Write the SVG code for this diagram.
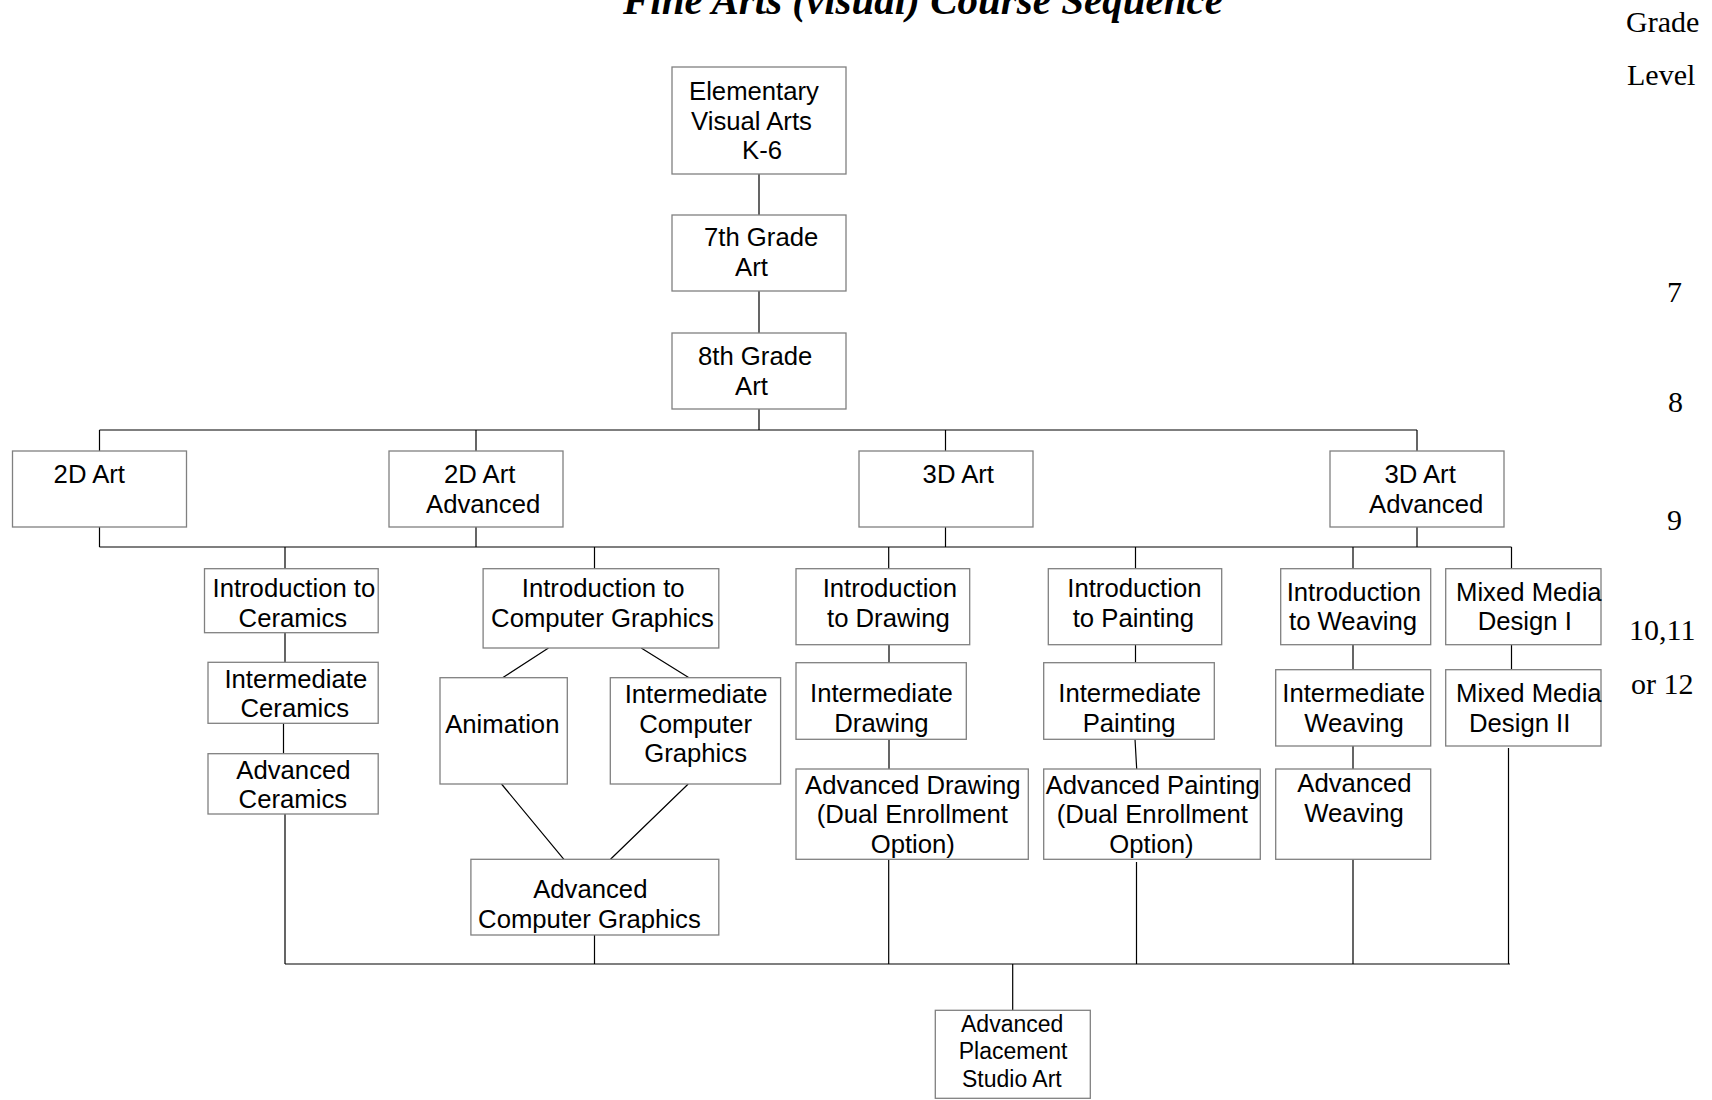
<svg xmlns="http://www.w3.org/2000/svg" width="1712" height="1100" viewBox="0 0 1712 1100">
<style>
.box{fill:#fff;stroke:#808080;stroke-width:1.3}
.t{font-family:"Liberation Sans",Arial,sans-serif;font-size:25.7px;fill:#000}
.s{font-size:23px}
.c{stroke:#000;stroke-width:1.2;fill:none}
.g{font-family:"Liberation Serif","Times New Roman",serif;font-size:30px;fill:#000}
.title{font-family:"Liberation Serif","Times New Roman",serif;font-weight:bold;font-style:italic;font-size:41px;fill:#000}
</style>
<rect width="1712" height="1100" fill="#fff"/>
<text class="title" x="623" y="14">Fine Arts (visual) Course Sequence</text>
<g id="grade-labels">
<text class="g" x="1626" y="32">Grade</text>
<text class="g" x="1627" y="85">Level</text>
<text class="g" x="1667" y="302">7</text>
<text class="g" x="1668" y="412">8</text>
<text class="g" x="1667" y="530">9</text>
<text class="g" x="1629" y="640">10,11</text>
<text class="g" x="1631" y="694">or 12</text>
</g>
<g id="connectors" class="c">
<path d="M759 174V215M759 291V333M759 409V430"/>
<path d="M99.5 430H1417M99.5 430V451M476 430V451M945.5 430V451M1417 430V451"/>
<path d="M99.5 527V547M476 527V547M945.5 527V547M1417 527V547M99.5 547H1511.5"/>
<path d="M285 547V569M594.5 547V569M888.7 547V569M1135.5 547V569M1353 547V569M1511.5 547V569"/>
<path d="M285 633V662M283.5 723V754M285 814V964"/>
<path d="M548.5 648L502.6 677.7M641.2 648L689 677.7M501.5 784L563.9 859.3M688.2 784L610.5 859.3M594.5 935V964"/>
<path d="M889 645V663M889 739V769M888.7 859V964"/>
<path d="M1135.5 645V663M1135 739L1136.7 769M1136.5 862V964"/>
<path d="M1353 645V670M1353 746V769M1353 859V964"/>
<path d="M1511.5 645V670M1508.5 748V964"/>
<path d="M285 964H1510M1012.7 964V1010.3"/>
</g>
<g id="elementary"><rect class="box" x="672" y="67" width="174" height="107"/><text class="t" x="689" y="100">Elementary</text><text class="t" x="691" y="130">Visual Arts</text><text class="t" x="742" y="159">K-6</text></g>
<g id="grade7"><rect class="box" x="672" y="215" width="174" height="76"/><text class="t" x="704" y="246">7th Grade</text><text class="t" x="735" y="276">Art</text></g>
<g id="grade8"><rect class="box" x="672" y="333" width="174" height="76"/><text class="t" x="698" y="365">8th Grade</text><text class="t" x="735" y="395">Art</text></g>
<g id="art2d"><rect class="box" x="12.5" y="451" width="174" height="76"/><text class="t" x="53.6" y="483.3">2D Art</text></g>
<g id="art2dadv"><rect class="box" x="389" y="451" width="174" height="76"/><text class="t" x="444" y="483.3">2D Art</text><text class="t" x="426" y="512.7">Advanced</text></g>
<g id="art3d"><rect class="box" x="859" y="451" width="174" height="76"/><text class="t" x="922.6" y="483.3">3D Art</text></g>
<g id="art3dadv"><rect class="box" x="1330" y="451" width="174" height="76"/><text class="t" x="1384.4" y="483.3">3D Art</text><text class="t" x="1369" y="512.7">Advanced</text></g>
<g id="intro-ceramics"><rect class="box" x="204.5" y="568.7" width="173.7" height="64"/><text class="t" x="212.5" y="597.3">Introduction to</text><text class="t" x="238.6" y="626.7">Ceramics</text></g>
<g id="int-ceramics"><rect class="box" x="208" y="662.3" width="170.2" height="61"/><text class="t" x="224.4" y="687.7">Intermediate</text><text class="t" x="240.5" y="717.3">Ceramics</text></g>
<g id="adv-ceramics"><rect class="box" x="208" y="753.7" width="170.2" height="60.3"/><text class="t" x="236.3" y="778.7">Advanced</text><text class="t" x="238.6" y="808.3">Ceramics</text></g>
<g id="intro-cg"><rect class="box" x="483.1" y="568.7" width="235.7" height="79.3"/><text class="t" x="521.8" y="597.3">Introduction to</text><text class="t" x="491.1" y="626.7">Computer Graphics</text></g>
<g id="animation"><rect class="box" x="440" y="677.7" width="127.3" height="106.3"/><text class="t" x="445.2" y="733.3">Animation</text></g>
<g id="int-cg"><rect class="box" x="610.3" y="677.7" width="170.3" height="106.3"/><text class="t" x="624.7" y="702.7">Intermediate</text><text class="t" x="639.2" y="732.7">Computer</text><text class="t" x="644.2" y="761.7">Graphics</text></g>
<g id="adv-cg"><rect class="box" x="470.9" y="859.3" width="247.9" height="75.7"/><text class="t" x="533.2" y="898.3">Advanced</text><text class="t" x="478.1" y="928.3">Computer Graphics</text></g>
<g id="intro-drawing"><rect class="box" x="796" y="568.7" width="173.7" height="76"/><text class="t" x="822.7" y="597.3">Introduction</text><text class="t" x="827" y="627.3">to Drawing</text></g>
<g id="int-drawing"><rect class="box" x="796" y="662.7" width="170.3" height="76.6"/><text class="t" x="810" y="702.3">Intermediate</text><text class="t" x="834.3" y="731.7">Drawing</text></g>
<g id="adv-drawing"><rect class="box" x="796" y="769" width="232.3" height="90.3"/><text class="t" x="805" y="794">Advanced Drawing</text><text class="t" x="816.7" y="823.3">(Dual Enrollment</text><text class="t" x="870.7" y="853.3">Option)</text></g>
<g id="intro-painting"><rect class="box" x="1048.3" y="568.7" width="173.4" height="76"/><text class="t" x="1067.3" y="597.3">Introduction</text><text class="t" x="1072.7" y="627.3">to Painting</text></g>
<g id="int-painting"><rect class="box" x="1043.7" y="662.7" width="170.6" height="76.6"/><text class="t" x="1058.3" y="702.3">Intermediate</text><text class="t" x="1082.7" y="731.7">Painting</text></g>
<g id="adv-painting"><rect class="box" x="1043.7" y="769" width="216.6" height="90.3"/><text class="t" x="1045.7" y="794">Advanced Painting</text><text class="t" x="1056.7" y="823.3">(Dual Enrollment</text><text class="t" x="1109.3" y="853.3">Option)</text></g>
<g id="intro-weaving"><rect class="box" x="1280.7" y="568.7" width="150" height="76"/><text class="t" x="1286.7" y="601">Introduction</text><text class="t" x="1289" y="630">to Weaving</text></g>
<g id="mixed-media-1"><rect class="box" x="1445.7" y="568.7" width="155.3" height="76"/><text class="t" x="1456" y="601">Mixed Media</text><text class="t" x="1477.7" y="630">Design I</text></g>
<g id="int-weaving"><rect class="box" x="1275.7" y="669.7" width="155" height="76.3"/><text class="t" x="1282.3" y="702.3">Intermediate</text><text class="t" x="1304.3" y="731.7">Weaving</text></g>
<g id="mixed-media-2"><rect class="box" x="1445.7" y="669.7" width="155.3" height="76.3"/><text class="t" x="1456" y="702.3">Mixed Media</text><text class="t" x="1469" y="731.7">Design II</text></g>
<g id="adv-weaving"><rect class="box" x="1275.7" y="769" width="155" height="90.3"/><text class="t" x="1297.3" y="792.3">Advanced</text><text class="t" x="1304.3" y="821.7">Weaving</text></g>
<g id="ap-studio"><rect class="box" x="935.3" y="1010.3" width="155" height="88"/><text class="t s" x="961" y="1032.3">Advanced</text><text class="t s" x="958.7" y="1059.3">Placement</text><text class="t s" x="962" y="1086.7">Studio Art</text></g>
</svg>
